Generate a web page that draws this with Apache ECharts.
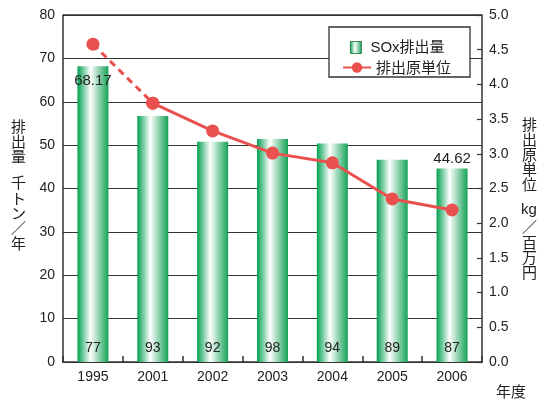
<!DOCTYPE html>
<html>
<head>
<meta charset="utf-8">
<script src="https://cdn.jsdelivr.net/npm/echarts@6/dist/echarts.min.js"></script>
<style>
html,body{margin:0;padding:0;background:#fff;}
#chart{width:543px;height:399px;}
</style>
</head>
<body>
<div id="chart"></div>
<script>
// Fiscal years on the category axis
const years = ['1995', '2001', '2002', '2003', '2004', '2005', '2006'];
// SOx emissions (thousand t / year)
const soxEmissions = [68.17, 56.7, 50.8, 51.4, 50.4, 46.6, 44.62];
// Emission intensity (kg / million yen)
const intensity = [4.58, 3.73, 3.33, 3.01, 2.87, 2.35, 2.19];
// Index figures printed at the foot of each bar
const indexFigures = [77, 93, 92, 98, 94, 89, 87];
// Bars whose value is printed: first and last
const valueLabelled = [0, 6];

const FONT = '"Liberation Sans", "Noto Sans CJK JP", sans-serif';
const JP = '"Noto Sans CJK JP", sans-serif';
const TXT = '#222';
const RED = '#e9504e';

const barFill = new echarts.graphic.LinearGradient(0, 0, 1, 0, [
  { offset: 0, color: '#00a04f' },
  { offset: 0.42, color: '#ffffff' },
  { offset: 1, color: '#14a257' }
]);

const barData = soxEmissions.map((v, i) => {
  if (!valueLabelled.includes(i)) return v;
  const first = i === 0;
  return {
    value: v,
    label: {
      show: true,
      position: first ? 'insideTop' : 'top',
      distance: first ? 7 : 2,
      formatter: v.toFixed(2),
      fontSize: 15,
      fontFamily: FONT,
      color: TXT
    }
  };
});

// The first interval (1995 -> 2001) is drawn dashed, the rest solid
const dashedPart = intensity.map((v, i) => (i <= 1 ? v : '-'));
const solidPart = intensity.map((v, i) => (i >= 1 ? v : '-'));

const chart = echarts.init(document.getElementById('chart'), null, { renderer: 'canvas' });

const lineCommon = {
  type: 'line',
  name: '排出原単位',
  yAxisIndex: 1,
  symbol: 'circle',
  symbolSize: 13,
  itemStyle: { color: RED },
  z: 5,
  animation: false
};

chart.setOption({
  animation: false,
  textStyle: { fontFamily: FONT, color: TXT },
  grid: { left: 63, right: 61, top: 15, bottom: 37, show: false },
  legend: [
    {
      data: [{ name: 'SOx排出量', icon: 'rect', itemStyle: { borderColor: '#1c6b3c', borderWidth: 0.8 } }],
      left: 345, top: 35,
      itemWidth: 11, itemHeight: 12,
      textStyle: { fontSize: 15, fontFamily: FONT, color: TXT, padding: [0, 0, 0, 4] },
      selectedMode: false,
      z: 10
    },
    {
      data: ['排出原単位'],
      left: 337, top: 55,
      itemWidth: 28, itemHeight: 13,
      textStyle: { fontSize: 15, fontFamily: JP, color: TXT },
      selectedMode: false,
      z: 10
    }
  ],
  xAxis: {
    type: 'category',
    data: years,
    axisLine: { show: true, lineStyle: { color: '#333', width: 1.5 } },
    axisTick: { show: true, inside: true, length: 6, lineStyle: { color: '#333', width: 1.5 } },
    axisLabel: { fontSize: 14, color: TXT, margin: 8, fontFamily: FONT }
  },
  yAxis: [
    {
      type: 'value', min: 0, max: 80, interval: 10,
      axisLine: { show: true, lineStyle: { color: '#333', width: 1.5 } },
      axisTick: { show: false },
      axisLabel: { fontSize: 14, color: TXT, margin: 8, fontFamily: FONT },
      splitLine: { show: true, lineStyle: { color: '#333', width: 1.2 } }
    },
    {
      type: 'value', min: 0, max: 5, interval: 0.5,
      position: 'right',
      axisLine: { show: true, lineStyle: { color: '#333', width: 1.5 } },
      axisTick: { show: true, inside: true, length: 5, lineStyle: { color: '#333', width: 1.2 } },
      axisLabel: { fontSize: 14, color: TXT, margin: 7, fontFamily: FONT, formatter: v => v.toFixed(1) },
      splitLine: { show: false }
    }
  ],
  graphic: [
    // frame line along the top of the plot
    { type: 'line', z: 3, shape: { x1: 63, y1: 15, x2: 482, y2: 15 }, style: { stroke: '#333', lineWidth: 1.5 } },
    // legend box
    { type: 'rect', z: 8, shape: { x: 329, y: 27, width: 141, height: 50 }, style: { fill: '#fff', stroke: '#333', lineWidth: 1.3 } },
    // left axis title
    { type: 'text', z: 9, left: 11, top: 119, style: { text: '排\n出\n量', font: '15px ' + JP, lineHeight: 15, fill: TXT } },
    { type: 'text', z: 9, left: 11, top: 175, style: { text: '千\nト\nン\n／\n年', font: '15px ' + JP, lineHeight: 15.2, fill: TXT } },
    // right axis title
    { type: 'text', z: 9, left: 522, top: 117, style: { text: '排\n出\n原\n単\n位', font: '15px ' + JP, lineHeight: 15, fill: TXT } },
    { type: 'text', z: 9, left: 521, top: 202, style: { text: 'kg', font: '15px ' + FONT, fill: TXT } },
    { type: 'text', z: 9, left: 522, top: 220, style: { text: '／\n百\n万\n円', font: '15px ' + JP, lineHeight: 15, fill: TXT } },
    // category axis title
    { type: 'text', z: 9, left: 496, top: 384, style: { text: '年度', font: '15px ' + JP, fill: TXT } }
  ],
  series: [
    {
      type: 'bar',
      name: 'SOx排出量',
      data: barData,
      barWidth: 31,
      itemStyle: { color: barFill },
      z: 2
    },
    {
      // carries the index figures at the foot of each bar
      type: 'bar',
      name: 'index',
      data: soxEmissions,
      barWidth: 31,
      barGap: '-100%',
      silent: true,
      itemStyle: { color: 'rgba(0,0,0,0)' },
      label: {
        show: true,
        position: 'insideBottom',
        distance: 7,
        fontSize: 14,
        fontFamily: FONT,
        color: TXT,
        formatter: p => String(indexFigures[p.dataIndex])
      },
      z: 3
    },
    Object.assign({}, lineCommon, { data: solidPart, lineStyle: { color: RED, width: 3 } }),
    Object.assign({}, lineCommon, { data: dashedPart, lineStyle: { color: RED, width: 3, type: [7, 5] } })
  ]
});
</script>
</body>
</html>
